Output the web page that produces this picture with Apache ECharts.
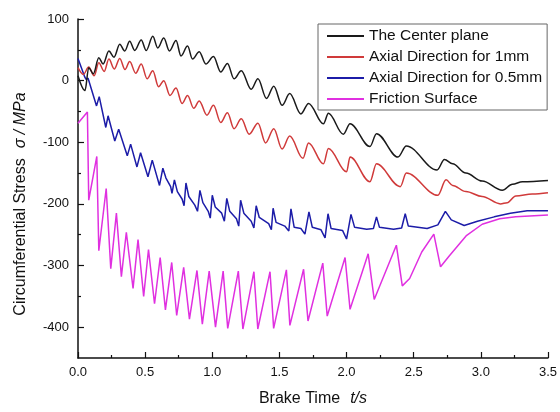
<!DOCTYPE html>
<html>
<head>
<meta charset="utf-8">
<script src="https://cdn.jsdelivr.net/npm/echarts@6/dist/echarts.min.js"></script>
<style>
  html, body { margin: 0; padding: 0; background: #fff; }
  #chart { width: 560px; height: 412px; }
</style>
</head>
<body>
<div id="chart"></div>
<script>
// [time s, stress MPa]
const centerPlane = [
  [0, 8], [0.052, -16], [0.08, 21], [0.114, 11], [0.155, 37], [0.187, 27], [0.23, 48], [0.268, 38],
  [0.311, 59], [0.348, 48], [0.385, 64], [0.422, 49], [0.471, 66], [0.508, 49], [0.557, 72], [0.594, 53],
  [0.639, 69], [0.681, 48], [0.73, 65], [0.767, 40], [0.816, 56], [0.853, 35], [0.903, 47], [0.952, 27],
  [1.009, 39], [1.063, 14], [1.113, 28], [1.162, 3], [1.216, 16], [1.29, -14], [1.34, 3], [1.404, -29],
  [1.458, -9], [1.52, -40], [1.577, -21], [1.66, -54], [1.717, -37], [1.828, -70], [1.865, -53],
  [1.976, -87], [2.026, -70], [2.174, -107], [2.223, -86], [2.383, -124], [2.445, -106], [2.674, -145],
  [2.729, -128], [2.79, -135], [2.889, -150], [3.01, -163], [3.16, -178], [3.235, -168], [3.31, -164],
  [3.5, -162]
];
const axial1mm = [
  [0, 21], [0.04, 10], [0.08, 22], [0.12, 8], [0.155, 29], [0.195, 15], [0.23, 35], [0.27, 19],
  [0.311, 36], [0.35, 18], [0.385, 31], [0.43, 12], [0.471, 27], [0.515, 3], [0.557, 16], [0.6, -10],
  [0.639, 0], [0.685, -24], [0.73, -12], [0.775, -37], [0.816, -24], [0.862, -45], [0.903, -33],
  [0.96, -56], [1.009, -40], [1.063, -68], [1.113, -52], [1.162, -78], [1.216, -62], [1.275, -87],
  [1.34, -69], [1.397, -101], [1.458, -78], [1.52, -111], [1.577, -90], [1.675, -126], [1.717, -101],
  [1.828, -135], [1.865, -110], [2.0, -148], [2.026, -124], [2.174, -164], [2.223, -135], [2.4, -172],
  [2.445, -150], [2.68, -186], [2.741, -161], [2.79, -170], [2.889, -180], [3.01, -188], [3.146, -200],
  [3.197, -198], [3.26, -187], [3.383, -184], [3.5, -182]
];
const axial05mm = [
  [0, 36], [0.03, 18], [0.05, 6], [0.06, 2], [0.075, 4], [0.138, -41], [0.158, -26], [0.207, -76],
  [0.224, -57], [0.274, -98], [0.303, -79], [0.367, -122], [0.392, -103], [0.439, -140], [0.466, -117],
  [0.521, -156], [0.553, -129], [0.607, -170], [0.632, -142], [0.655, -158], [0.69, -172], [0.70, -183],
  [0.718, -161], [0.74, -180], [0.775, -192], [0.79, -203], [0.804, -166], [0.825, -188], [0.87, -202],
  [0.89, -212], [0.908, -178], [0.93, -198], [0.97, -212], [0.985, -223], [1.0, -186], [1.022, -205],
  [1.07, -215], [1.09, -228], [1.108, -191], [1.13, -212], [1.18, -224], [1.197, -236], [1.211, -194],
  [1.235, -215], [1.29, -228], [1.31, -239], [1.327, -203], [1.35, -222], [1.42, -232], [1.44, -242],
  [1.453, -207], [1.475, -230], [1.54, -236], [1.57, -244], [1.586, -208], [1.61, -238], [1.66, -240],
  [1.69, -249], [1.72, -213], [1.745, -238], [1.81, -242], [1.84, -255], [1.862, -216], [1.885, -240],
  [1.97, -243], [2.0, -257], [2.033, -217], [2.06, -238], [2.15, -241], [2.2, -240], [2.223, -221],
  [2.245, -238], [2.35, -241], [2.41, -239], [2.437, -216], [2.46, -236], [2.6, -240], [2.68, -234],
  [2.736, -212], [2.78, -226], [2.876, -235], [2.975, -228], [3.1, -221], [3.22, -215], [3.345, -211],
  [3.5, -211]
];
const frictionSurface = [
  [0, -69], [0.07, -51], [0.08, -194], [0.14, -123], [0.155, -276], [0.21, -175], [0.244, -305],
  [0.286, -215], [0.323, -318], [0.36, -246], [0.41, -337], [0.447, -258], [0.489, -350], [0.525, -274],
  [0.57, -362], [0.612, -287], [0.651, -372], [0.698, -295], [0.735, -381], [0.787, -303], [0.83, -387],
  [0.886, -308], [0.926, -395], [0.977, -309], [1.024, -400], [1.081, -309], [1.115, -402], [1.194, -309],
  [1.228, -403], [1.31, -310], [1.339, -403], [1.43, -310], [1.457, -402], [1.552, -307], [1.578, -397],
  [1.68, -306], [1.713, -390], [1.823, -296], [1.856, -382], [1.989, -287], [2.026, -371], [2.161, -281],
  [2.206, -355], [2.371, -267], [2.415, -333], [2.47, -321], [2.56, -278], [2.65, -249], [2.70, -302],
  [2.766, -284], [2.89, -252], [3.01, -233], [3.14, -224], [3.26, -221], [3.5, -218]
];
const seriesNames = ["The Center plane", "Axial Direction for 1mm", "Axial Direction for 0.5mm", "Friction Surface"];
const seriesColors = ["#1a1a1a", "#d03a3a", "#1c1ca8", "#e030e0"];
const yMajorTicks = [-400, -300, -200, -100, 0, 100];
const yMinorTicks = [-350, -250, -150, -50, 50];

const font = "'Liberation Sans', Arial, sans-serif";
const chart = echarts.init(document.getElementById("chart"));

const dataSets = [centerPlane, axial1mm, axial05mm, frictionSurface];

chart.setOption({
  backgroundColor: "#fff",
  animation: false,
  grid: { left: 78, right: 9, top: 19, bottom: 48 },
  legend: {
    orient: "vertical",
    left: 318,
    top: 24,
    padding: [4, 5, 3, 8],
    itemGap: 5,
    itemWidth: 37,
    itemHeight: 14,
    borderColor: "#666",
    borderWidth: 1,
    borderRadius: 0,
    itemStyle: { opacity: 0 },
    textStyle: { fontFamily: font, fontSize: 15.5, color: "#111" },
    data: seriesNames,
  },
  xAxis: {
    type: "value",
    min: 0,
    max: 3.5,
    interval: 0.5,
    axisLine: { onZero: false, lineStyle: { color: "#111", width: 1.5 } },
    axisTick: { inside: true, length: 6, lineStyle: { color: "#111", width: 1.2 } },
    minorTick: { show: true, splitNumber: 2, length: 3, lineStyle: { color: "#111", width: 1.2 } },
    axisLabel: { fontFamily: font, fontSize: 13, color: "#111", margin: 8, formatter: v => v.toFixed(1) },
    splitLine: { show: false },
    name: "{a|Brake Time}   {b|t/s}",
    nameLocation: "middle",
    nameGap: 33,
    nameTextStyle: {
      rich: {
        a: { fontFamily: font, fontSize: 16, color: "#111" },
        b: { fontFamily: font, fontSize: 16, color: "#111", fontStyle: "italic" },
      },
    },
  },
  yAxis: [
    {
      type: "value",
      min: -450,
      max: 100,
      axisLine: { show: true, onZero: false, lineStyle: { color: "#111", width: 1.5 } },
      axisTick: { inside: true, length: 6, customValues: yMajorTicks, lineStyle: { color: "#111", width: 1.2 } },
      axisLabel: { fontFamily: font, fontSize: 13, color: "#111", margin: 9, customValues: yMajorTicks },
      splitLine: { show: false },
    },
    {
      type: "value",
      min: -450,
      max: 100,
      position: "left",
      axisLine: { show: false, onZero: false },
      axisTick: { show: true, inside: true, length: 3, customValues: yMinorTicks, lineStyle: { color: "#111", width: 1.2 } },
      axisLabel: { show: false },
      splitLine: { show: false },
    },
  ],
  graphic: [
    {
      type: "text",
      x: 21,
      y: 204,
      rotation: Math.PI / 2,
      style: {
        text: "{a|Circumferential Stress}   {b|σ / MPa}",
        align: "center",
        verticalAlign: "middle",
        rich: {
          a: { fontFamily: font, fontSize: 16, fill: "#111" },
          b: { fontFamily: font, fontSize: 16, fill: "#111", fontStyle: "italic" },
        },
      },
    },
  ],
  series: dataSets.map((d, i) => ({
    name: seriesNames[i],
    type: "line",
    data: d,
    symbol: "none",
    smooth: i < 2 ? 0.35 : false,
    smoothMonotone: "x",
    color: seriesColors[i],
    lineStyle: { width: 1.5, color: seriesColors[i] },
    z: 10 - i,
  })),
});
</script>
</body>
</html>
